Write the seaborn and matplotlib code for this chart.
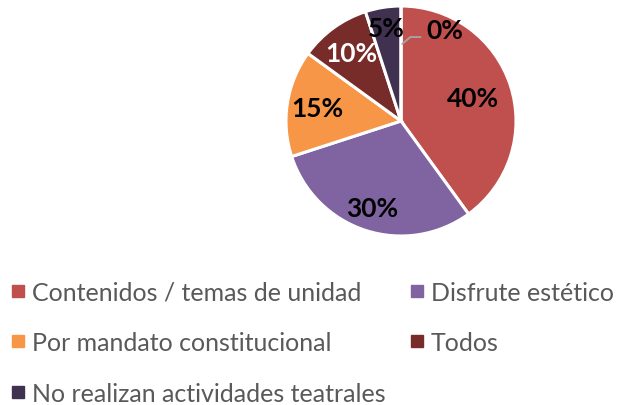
import numpy as np
import matplotlib
matplotlib.use("Agg")
import matplotlib.pyplot as plt
from matplotlib.lines import Line2D
import seaborn as sns

# data
categories = ['Contenidos / temas de unidad', 'Disfrute estético', 'Por mandato constitucional',
              'Todos', 'No realizan actividades teatrales', '']
values = [40, 30, 15, 10, 5, 0]
colors = ['#C0504D', '#8064A2', '#F79646', '#772C2A', '#403151', '#4BACC6']
label_colors = ['black', 'black', 'black', 'white', 'black', 'black']

sns.set_theme(style='white')
plt.rcParams['font.family'] = ['Lato', 'DejaVu Sans']

W, H = 622, 406
fig = plt.figure(figsize=(W / 100, H / 100), dpi=100)
cx, cy, R = 401, 122, 115
ax = fig.add_axes([(cx - R) / W, (H - cy - R) / H, 2 * R / W, 2 * R / H])

wedges, _ = ax.pie(values, colors=colors, startangle=90, counterclock=False,
                   wedgeprops=dict(edgecolor='white', linewidth=2.2))
ax.set_xlim(-1, 1)
ax.set_ylim(-1, 1)
ax.set_aspect('equal')
ax.axis('off')

# percentage labels
dists = [0.66, 0.8, 0.74, 0.73, 0.82]
for w, v, d, c in zip(wedges[:5], values[:5], dists, label_colors):
    ang = np.deg2rad((w.theta1 + w.theta2) / 2)
    ax.text(d * np.cos(ang), d * np.sin(ang), f'{v}%', ha='center', va='center',
            fontsize=19, fontweight='bold', color=c)

# 0% with leader line
ax.annotate('', xy=(0.01, 0.67), xytext=(0.17, 0.73),
            arrowprops=dict(arrowstyle='-', color='#A6A6A6', lw=1.3,
                            connectionstyle='angle,angleA=0,angleB=40,rad=0',
                            shrinkA=0, shrinkB=0))
ax.text(0.22, 0.79, f'{values[5]}%', ha='left', va='center',
        fontsize=19, fontweight='bold', color='black')

# legend, row-major order as in the reference
order = [0, 2, 4, 1, 3]
handles = [Line2D([], [], marker='s', linestyle='', markersize=8.5,
                  markerfacecolor=colors[i], markeredgecolor=colors[i]) for i in order]
labels = [categories[i] for i in order]
fig.legend(handles, labels, ncol=2, loc='upper left', bbox_to_anchor=(-0.027, 0.362),
           frameon=False, fontsize=18, labelcolor='#595959', handletextpad=0.05,
           columnspacing=0.75, labelspacing=1.1, handlelength=1.0)

fig.savefig('out.png', dpi=100)
